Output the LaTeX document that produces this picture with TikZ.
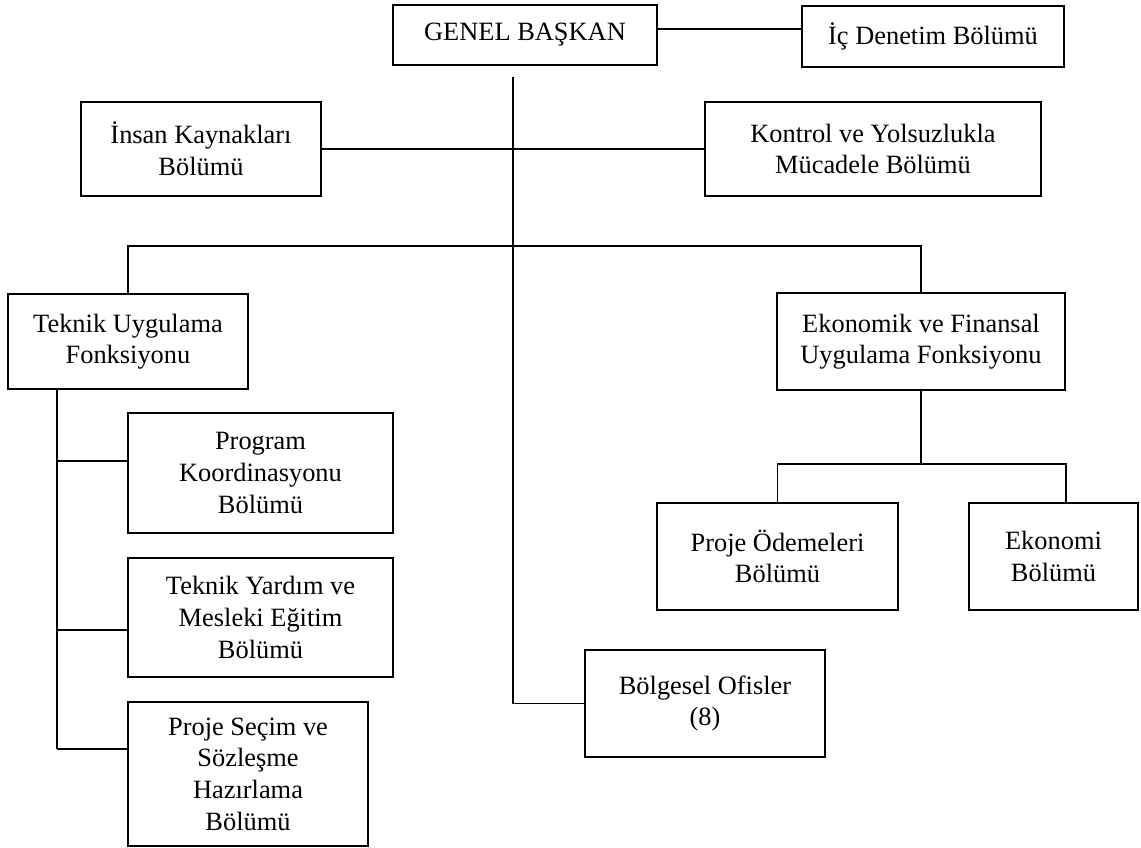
\documentclass[tikz,border=0pt]{standalone}
\usepackage{fontspec}
\setmainfont{Liberation Serif}
\begin{document}
\begin{tikzpicture}[x=1pt,y=-1pt,
  box/.style={draw, line width=1.9pt, align=center, inner sep=2pt,
    font=\fontsize{26.4}{31.6}\selectfont},
  link/.style={line width=1.9pt}]
\useasboundingbox (0,0) rectangle (1141,848);

% boxes
\node[box, minimum width=264pt, minimum height=60pt] (gb) at (525,35) {GENEL BAŞKAN};
\node[box, minimum width=262pt, minimum height=61pt] (ic) at (933,36.5) {İç Denetim Bölümü};
\node[box, minimum width=240pt, minimum height=94pt] (ik) at (201,149) {İnsan Kaynakları\\Bölümü};
\node[box, minimum width=336pt, minimum height=94pt] (ky) at (873,149) {Kontrol ve Yolsuzlukla\\Mücadele Bölümü};
\node[box, minimum width=240pt, minimum height=95pt] (tu) at (128,341.5) {Teknik Uygulama\\Fonksiyonu};
\node[box, minimum width=288pt, minimum height=97pt] (ef) at (921,341.5) {Ekonomik ve Finansal\\Uygulama Fonksiyonu};
\node[box, minimum width=265pt, minimum height=120pt] (pk) at (260.5,473) {Program\\Koordinasyonu\\Bölümü};
\node[box, minimum width=265pt, minimum height=119pt] (ty) at (260.5,617.5) {Teknik Yardım ve\\Mesleki Eğitim\\Bölümü};
\node[box, minimum width=240pt, minimum height=144pt] (ps) at (248,774) {Proje Seçim ve\\Sözleşme\\Hazırlama\\Bölümü};
\node[box, minimum width=241pt, minimum height=107pt] (po) at (777.5,556.5) {Proje Ödemeleri\\Bölümü};
\node[box, minimum width=169pt, minimum height=107pt] (ek) at (1053.5,556.5) {Ekonomi\\Bölümü};
\node[box, minimum width=240pt, minimum height=107pt] (bo) at (705,703.5) {Bölgesel Ofisler\\(8)};

% junction points
\coordinate (trunk) at (513,77);
\coordinate (ich) at (0,29);
\coordinate (mid) at (513,246);
\coordinate (tvtop) at (57,389);
\coordinate (j1) at (57,461);
\coordinate (j2) at (57,630);
\coordinate (j3) at (57,749);
\coordinate (ej) at (921,464);
\coordinate (ekj) at (1066,464);

% connectors
\draw[link] (gb.east |- ich) -- (ic.west |- ich);
\draw[link] (trunk) |- (bo.west);
\draw[link] (ik.east) -- (ky.west);
\draw[link] (tu.north) |- (mid) -| (ef.north);
\draw[link] (tvtop) -- (j3);
\draw[link] (j1) -- (j1 -| pk.west);
\draw[link] (j2) -- (j2 -| ty.west);
\draw[link] (j3) -- (j3 -| ps.west);
\draw[link] (ef.south) -- (ej);
\draw[link] (po.north) |- (ekj) -- (ekj |- ek.north);
\end{tikzpicture}
\end{document}
